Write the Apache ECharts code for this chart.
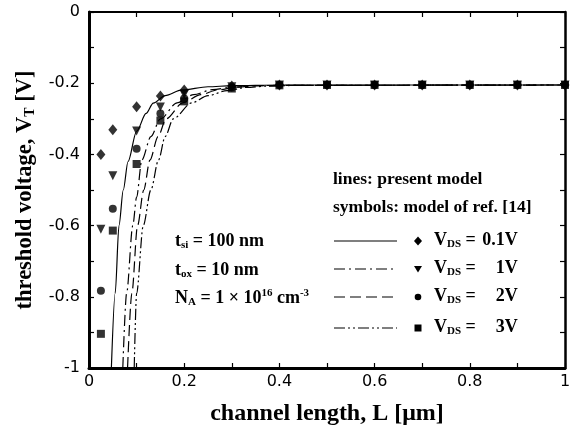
<!DOCTYPE html>
<html>
<head>
<meta charset="utf-8">
<script src="https://cdn.jsdelivr.net/npm/echarts@6/dist/echarts.min.js"></script>
<style>
  html, body { margin: 0; padding: 0; background: #fff; }
  #grafico { width: 574px; height: 425px; }
</style>
</head>
<body>
<div id="grafico"></div>
<script>
// channel lengths of the symbols (um)
const lengths = [0.025, 0.05, 0.1, 0.15, 0.2, 0.3, 0.4, 0.5, 0.6, 0.7, 0.8, 0.9, 1.0]

// model of ref. [14]
const ref01 = [-0.40, -0.331, -0.266, -0.236, -0.219, -0.208, -0.205, -0.205, -0.205, -0.205, -0.205, -0.205, -0.205]
const ref1 = [-0.61, -0.46, -0.334, -0.267, -0.232, -0.210, -0.205, -0.205, -0.205, -0.205, -0.205, -0.205, -0.205]
const ref2 = [-0.783, -0.553, -0.384, -0.285, -0.243, -0.212, -0.205, -0.205, -0.205, -0.205, -0.205, -0.205, -0.205]
const ref3 = [-0.904, -0.614, -0.427, -0.305, -0.251, -0.215, -0.206, -0.205, -0.205, -0.205, -0.205, -0.205, -0.205]

// present model, [L, VT]
const model01 = [[0.047, -1], [0.055, -0.79], [0.063, -0.6], [0.072, -0.5], [0.082, -0.42], [0.1, -0.335], [0.12, -0.285], [0.135, -0.256], [0.16, -0.235], [0.195, -0.219], [0.25, -0.21], [0.3, -0.207], [0.4, -0.205], [1, -0.205]]
const model1 = [[0.071, -1], [0.079, -0.79], [0.092, -0.6], [0.1, -0.52], [0.111, -0.416], [0.13, -0.35], [0.15, -0.3], [0.185, -0.255], [0.22, -0.232], [0.26, -0.218], [0.3, -0.211], [0.35, -0.207], [0.4, -0.206], [1, -0.205]]
const model2 = [[0.081, -1], [0.09, -0.79], [0.102, -0.6], [0.115, -0.5], [0.128, -0.416], [0.145, -0.35], [0.162, -0.3], [0.197, -0.255], [0.235, -0.232], [0.27, -0.219], [0.31, -0.211], [0.36, -0.207], [0.42, -0.206], [1, -0.205]]
const model3 = [[0.095, -1], [0.1, -0.79], [0.114, -0.6], [0.13, -0.5], [0.146, -0.416], [0.16, -0.35], [0.177, -0.3], [0.216, -0.255], [0.25, -0.235], [0.29, -0.221], [0.33, -0.212], [0.38, -0.208], [0.44, -0.206], [1, -0.205]]

const vdsLabels = ['0.1V', '1V', '2V', '3V']

const serif = 'Liberation Serif'
const dashes = ['solid', [11, 4, 2, 4], [11, 5], [11, 3, 2, 3, 2, 3]]

function pares(vals) {
  return lengths.map((l, i) => [l, vals[i]])
}

let myChart = echarts.init(document.getElementById('grafico'))

function eixo(tipo, min, max, largura) {
  return {
    type: 'value', min: min, max: max, interval: 0.2,
    axisLine: { onZero: false, lineStyle: { color: '#000', width: largura } },
    axisTick: { inside: true, length: 5, lineStyle: { color: '#000', width: 1.2 } },
    minorTick: { show: true, splitNumber: 2, length: 5, lineStyle: { color: '#000', width: 1.2 } },
    splitLine: { show: false },
    minorSplitLine: { show: false }
  }
}

let series = []
const modelos = [model01, model1, model2, model3]
modelos.forEach((m, i) => {
  series.push({
    type: 'line', data: m, showSymbol: false, symbol: 'none',
    smooth: 0.3, smoothMonotone: 'x',
    lineStyle: { color: '#000', width: 1.2, type: dashes[i] },
    z: 2
  })
})
const refs = [ref01, ref1, ref2, ref3]
const simbolos = ['diamond', 'triangle', 'circle', 'rect']
const tamanhos = [[9, 11], 9, 8, 8]
refs.forEach((r, i) => {
  series.push({
    type: 'scatter', data: pares(r),
    symbol: simbolos[i], symbolSize: tamanhos[i],
    symbolRotate: i === 1 ? 180 : 0,
    itemStyle: { color: '#000' },
    z: 3
  })
})

// legend / annotations
const richBase = {
  b: { fontFamily: serif, fontWeight: 'bold', fontSize: 18, color: '#000', lineHeight: 20 },
  s: { fontFamily: serif, fontWeight: 'bold', fontSize: 11, color: '#000', lineHeight: 10, verticalAlign: 'bottom' },
  p: { fontFamily: serif, fontWeight: 'bold', fontSize: 11, color: '#000', lineHeight: 14, verticalAlign: 'top' },
  n: { fontFamily: serif, fontWeight: 'bold', fontSize: 18, color: '#000', lineHeight: 20, width: 42, align: 'right' }
}
function texto(x, y, t) {
  return {
    type: 'text', left: x, top: y - 10,
    style: { text: t, rich: richBase, fontFamily: serif, fontWeight: 'bold', fontSize: 18, fill: '#000' }
  }
}

let graficos = [
  texto(175, 242, '{b|t}{s|si}{b| = 100 nm}'),
  texto(175, 271, '{b|t}{s|ox}{b| = 10 nm}'),
  texto(175, 298, '{b|N}{s|A}{b| = 1 × 10}{p|16}{b| cm}{p|-3}'),
  { type: 'text', left: 333, top: 180 - 10, style: { text: 'lines: present model', fontFamily: serif, fontWeight: 'bold', fontSize: 17.5, fill: '#000' } },
  { type: 'text', left: 333, top: 208 - 10, style: { text: 'symbols: model of ref. [14]', fontFamily: serif, fontWeight: 'bold', fontSize: 17.5, fill: '#000' } }
]
const linhasY = [241, 269, 297, 328]
linhasY.forEach((y, i) => {
  graficos.push({
    type: 'line', shape: { x1: 334, y1: y, x2: 397, y2: y },
    style: { stroke: '#000', lineWidth: 1.2, lineDash: dashes[i] === 'solid' ? null : dashes[i] }
  })
  graficos.push(texto(434, y, '{b|V}{s|DS}{b| =}{n|' + vdsLabels[i] + '}'))
})
graficos.push({ type: 'polygon', shape: { points: [[418, linhasY[0] - 4.5], [422, linhasY[0]], [418, linhasY[0] + 4.5], [414, linhasY[0]]] }, style: { fill: '#000' } })
graficos.push({ type: 'polygon', shape: { points: [[414, linhasY[1] - 3], [422, linhasY[1] - 3], [418, linhasY[1] + 3.5]] }, style: { fill: '#000' } })
graficos.push({ type: 'circle', shape: { cx: 418, cy: linhasY[2], r: 3.3 }, style: { fill: '#000' } })
graficos.push({ type: 'rect', shape: { x: 414.5, y: linhasY[3] - 3.5, width: 7, height: 7 }, style: { fill: '#000' } })

let option = {
  animation: false,
  grid: { left: 89, right: 9, top: 12, bottom: 57, containLabel: false, outerBoundsMode: 'none' },
  xAxis: [
    Object.assign(eixo('x', 0, 1, 3), {
      position: 'bottom',
      name: 'channel length, L [μm]',
      nameLocation: 'middle', nameGap: 34,
      nameTextStyle: { fontFamily: serif, fontWeight: 'bold', fontSize: 24, color: '#000' },
      axisLabel: { margin: 6, fontFamily: 'DejaVu Sans', fontSize: 16, color: '#000' }
    }),
    Object.assign(eixo('x', 0, 1, 2), { position: 'top', axisLabel: { show: false } })
  ],
  yAxis: [
    Object.assign(eixo('y', -1, 0, 3), {
      position: 'left',
      name: '{b|threshold voltage, V}{s|T}{b| [V]}',
      nameLocation: 'middle', nameGap: 46,
      nameTextStyle: {
        rich: {
          b: { fontFamily: serif, fontWeight: 'bold', fontSize: 22.5, color: '#000', lineHeight: 26 },
          s: { fontFamily: serif, fontWeight: 'bold', fontSize: 14, color: '#000', lineHeight: 13, verticalAlign: 'bottom' }
        }
      },
      axisLabel: { margin: 9, fontFamily: 'DejaVu Sans', fontSize: 16, color: '#000' }
    }),
    Object.assign(eixo('y', -1, 0, 2.5), { position: 'right', axisLabel: { show: false } })
  ],
  series: series,
  graphic: graficos
}

option && myChart.setOption(option)
</script>
</body>
</html>
